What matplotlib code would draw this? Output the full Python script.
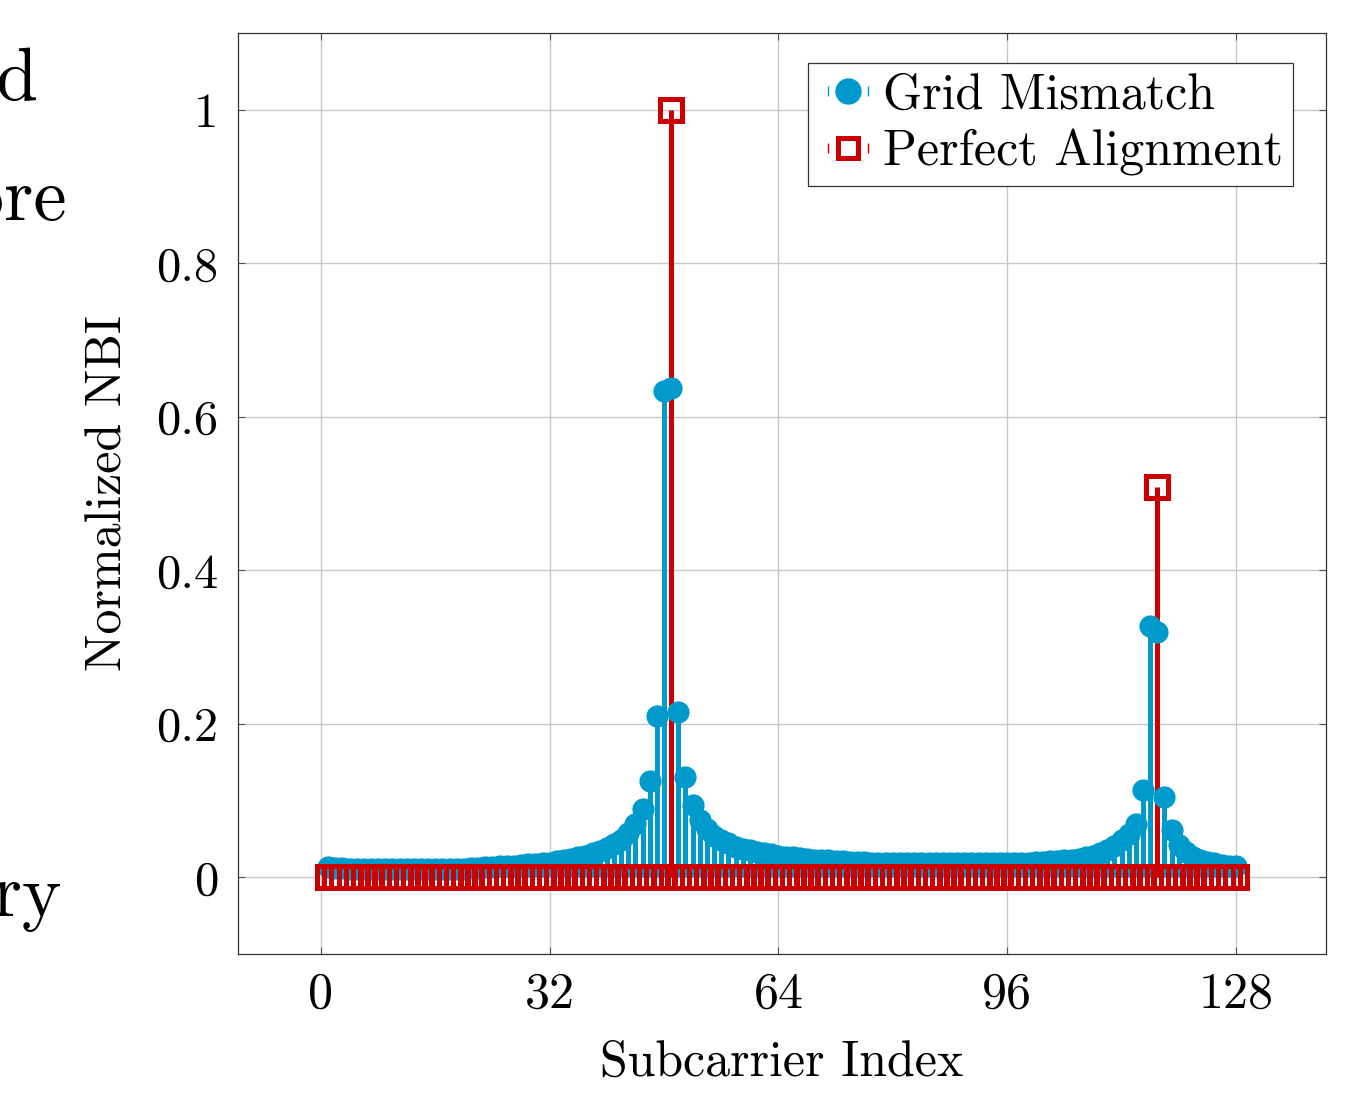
#!/usr/bin/env python
# -*- coding: utf-8 -*-

"""Stem plot of normalized NBI per subcarrier: grid mismatch vs perfect alignment"""

import matplotlib
matplotlib.use("Agg")
import matplotlib.pyplot as plt
from matplotlib.lines import Line2D
from matplotlib.legend_handler import HandlerTuple

plt.rcParams['font.family'] = ['cmr10', 'DejaVu Serif']
plt.rcParams['mathtext.fontset'] = 'cm'
plt.rcParams['axes.formatter.use_mathtext'] = True

BLUE = '#009BCC'
RED = '#CC0000'

# subcarrier indices 1..128
subcarriers = list(range(1, 129))

# NBI leaking over all subcarriers when the interferer sits between bins
grid_mismatch = [
    0.013, 0.012, 0.012, 0.011, 0.011, 0.011, 0.011, 0.011, 0.011, 0.011,   # 1-10
    0.011, 0.011, 0.011, 0.011, 0.011, 0.011, 0.011, 0.011, 0.011, 0.011,   # 11-20
    0.012, 0.012, 0.013, 0.013, 0.014, 0.014, 0.015, 0.016, 0.017, 0.017,   # 21-30
    0.018, 0.019, 0.021, 0.022, 0.024, 0.026, 0.028, 0.031, 0.034, 0.038,   # 31-40
    0.043, 0.049, 0.057, 0.069, 0.089, 0.125, 0.210, 0.634, 0.638, 0.215,   # 41-50
    0.130, 0.094, 0.075, 0.063, 0.054, 0.048, 0.044, 0.040, 0.037, 0.035,   # 51-60
    0.033, 0.031, 0.030, 0.028, 0.027, 0.026, 0.025, 0.024, 0.023, 0.023,   # 61-70
    0.022, 0.021, 0.021, 0.020, 0.020, 0.020, 0.019, 0.019, 0.019, 0.019,   # 71-80
    0.018, 0.018, 0.018, 0.018, 0.018, 0.018, 0.018, 0.018, 0.018, 0.018,   # 81-90
    0.018, 0.018, 0.018, 0.018, 0.018, 0.018, 0.019, 0.019, 0.019, 0.020,   # 91-100
    0.020, 0.021, 0.021, 0.022, 0.023, 0.024, 0.026, 0.028, 0.031, 0.035,   # 101-110
    0.041, 0.048, 0.056, 0.070, 0.114, 0.327, 0.319, 0.104, 0.061, 0.042,   # 111-120
    0.033, 0.027, 0.023, 0.020, 0.018, 0.016, 0.015, 0.014,                 # 121-128
]

# with perfect alignment the NBI lands on a single subcarrier each
perfect_alignment = [0.0] * 128
perfect_alignment[49 - 1] = 1.0
perfect_alignment[117 - 1] = 0.508

x_ticks = [0, 32, 64, 96, 128]
y_ticks = [0, 0.2, 0.4, 0.6, 0.8, 1.0]
y_tick_labels = ['0', '0.2', '0.4', '0.6', '0.8', '1']


def comb_handle(marker_kw, color):
    """Legend entry that looks like a small comb: tick, marker, tick"""
    tick = Line2D([], [], marker='|', color=color, ls='none', ms=7, mew=1.0)
    mark = Line2D([], [], ls='none', color=color, **marker_kw)
    return (tick, mark, tick)


def main():
    fig = plt.figure(figsize=(13.67, 10.94), dpi=100)
    ax = fig.add_axes([0.1741, 0.128, 0.7959, 0.8418])

    # stems below, markers on top
    ax.vlines(subcarriers, 0, grid_mismatch, color=BLUE, lw=3.6, zorder=2)
    ax.vlines(subcarriers, 0, perfect_alignment, color=RED, lw=3.6, zorder=2.1)
    ax.plot(subcarriers, grid_mismatch, 'o', color=BLUE, ms=16, mew=0, zorder=3)
    ax.plot(subcarriers, perfect_alignment, 's', color=RED, mfc='none',
            ms=15.5, mew=3.6, zorder=4)

    ax.set_xlim(-11.6, 140.6)
    ax.set_ylim(-0.1, 1.1)
    ax.set_xticks(x_ticks)
    ax.set_xticklabels([str(t) for t in x_ticks], fontsize=36)
    ax.set_yticks(y_ticks)
    ax.set_yticklabels(y_tick_labels, fontsize=35)
    ax.tick_params(direction='in', top=True, right=True, length=5, width=0.8,
                   color='#555555')
    ax.tick_params(axis='x', pad=13)
    ax.tick_params(axis='y', pad=14)
    ax.grid(True, color='#c8c8c8', lw=1.0)
    ax.set_axisbelow(True)
    for sp in ax.spines.values():
        sp.set_linewidth(0.9)
        sp.set_color('#333333')

    ax.set_xlabel('Subcarrier Index', fontsize=36, labelpad=16)
    ax.set_ylabel('Normalized NBI', fontsize=36, labelpad=18)

    handles = [
        comb_handle(dict(marker='o', ms=19, mew=0), BLUE),
        comb_handle(dict(marker='s', mfc='none', ms=15, mew=3.6), RED),
    ]
    leg = ax.legend(handles, ['Grid Mismatch', 'Perfect Alignment'],
                    handler_map={tuple: HandlerTuple(ndivide=3, pad=0.0)},
                    loc='upper right', fontsize=36, fancybox=False,
                    framealpha=1, edgecolor='#333333', handlelength=1.2,
                    handletextpad=0.1, borderpad=0.2, labelspacing=0.22,
                    borderaxespad=0.0, bbox_to_anchor=(0.97, 0.968))
    leg.get_frame().set_linewidth(0.9)

    # fragments of the surrounding page text, cut by the left edge
    fig.text(38 / 1367, 1 - 100 / 1094, 'and', fontsize=54, ha='right',
             va='baseline')
    fig.text(67 / 1367, 1 - 220 / 1094, 'more', fontsize=54, ha='right',
             va='baseline')
    fig.text(62 / 1367, 1 - 916 / 1094, 'very', fontsize=54, ha='right',
             va='baseline')

    fig.savefig('out.png', dpi=100)


if __name__ == "__main__":
    main()
